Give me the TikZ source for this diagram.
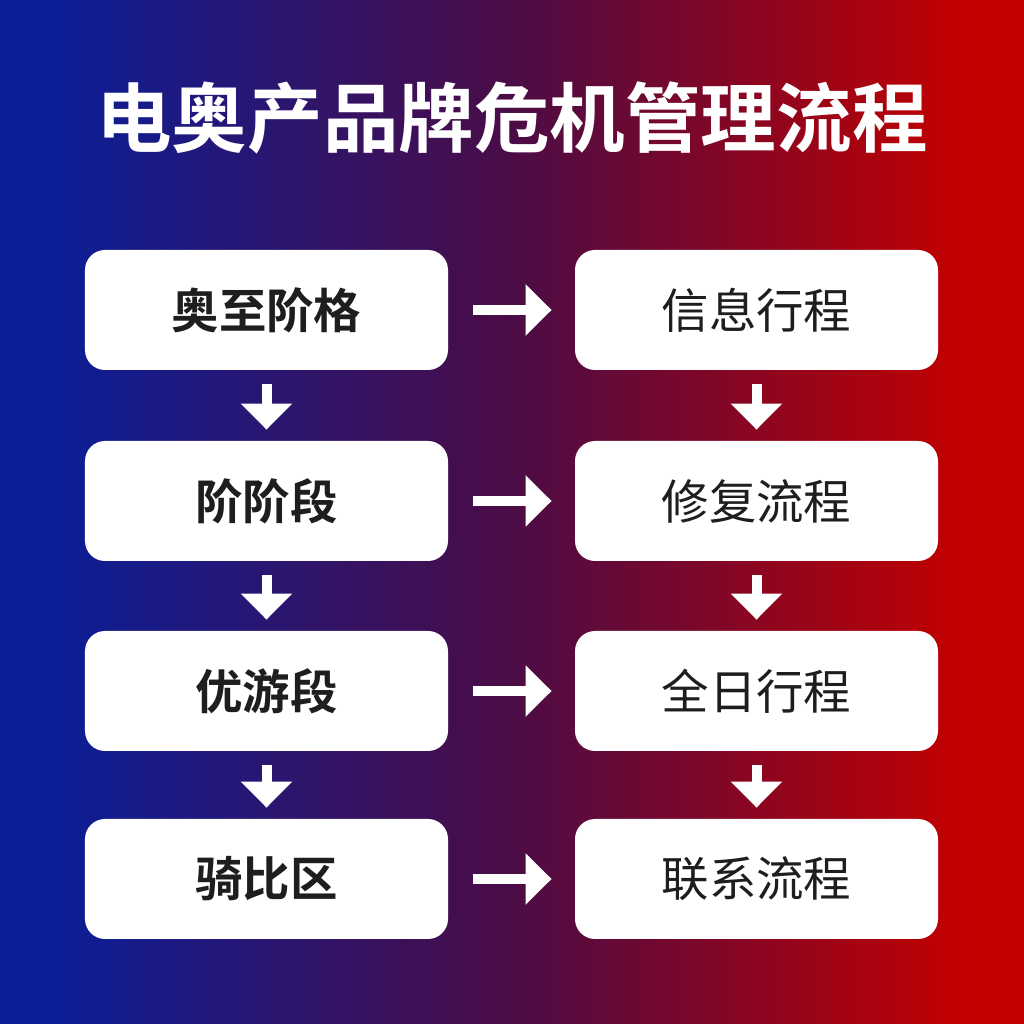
\documentclass[tikz,border=0pt]{standalone}
\usepackage{fontspec}
\setmainfont{Noto Sans CJK SC}
\newfontfamily\cjkbold{Noto Sans CJK SC Bold}
\usetikzlibrary{positioning,arrows.meta}
\definecolor{bgblue}{RGB}{12,30,150}
\definecolor{bgmid}{RGB}{75,12,70}
\definecolor{bgred}{RGB}{195,0,0}
\definecolor{boxtext}{RGB}{30,30,30}
\pgfdeclarehorizontalshading{bgshade}{100bp}{color(0bp)=(bgblue); color(42bp)=(bgblue); color(50bp)=(bgmid); color(58bp)=(bgred); color(100bp)=(bgred)}
\begin{document}
\begin{tikzpicture}[thick,
    step box/.style={rectangle,rounded corners=0.2cm,fill=white,minimum width=3.63cm,minimum height=1.2cm,text=boxtext,font=\fontsize{13.5pt}{15pt}\selectfont},
    left box/.style={step box,font=\cjkbold\fontsize{13.5pt}{15pt}\selectfont},
    flow arrow/.style={draw=white,line width=1mm,-{Triangle[length=2.6mm,width=5mm]}}]
    \useasboundingbox (0,0) rectangle (10.24,10.24);
    \begin{scope}
        \clip (0,0) rectangle (10.24,10.24);
        \shade[shading=bgshade,rotate around={-21:(5.12,5.12)}] (-5.88,-5.88) rectangle (16.12,16.12);
    \end{scope}
    \node[text=white,font=\cjkbold\fontsize{21.5pt}{24pt}\selectfont] (title) at (5.12,9.06) {电奥产品牌危机管理流程};

    \node[left box] at (2.665,7.14) (a1) {奥至阶格};
    \node[left box] at (2.665,5.23) (a2) {阶阶段};
    \node[left box] at (2.665,3.33) (a3) {优游段};
    \node[left box] at (2.665,1.45) (a4) {骑比区};
    \node[step box] at (7.565,7.14) (b1) {信息行程};
    \node[step box] at (7.565,5.23) (b2) {修复流程};
    \node[step box] at (7.565,3.33) (b3) {全日行程};
    \node[step box] at (7.565,1.45) (b4) {联系流程};

    \foreach \i in {1,2,3,4}
        \draw[flow arrow] ([xshift=2.4mm]a\i.east) -- ([xshift=-2.2mm]b\i.west);
    \foreach \i/\j in {1/2,2/3,3/4} {
        \draw[flow arrow] ([yshift=-1.3mm]a\i.south) -- ([yshift=1mm]a\j.north);
        \draw[flow arrow] ([yshift=-1.3mm]b\i.south) -- ([yshift=1mm]b\j.north);
    }
\end{tikzpicture}
\end{document}
